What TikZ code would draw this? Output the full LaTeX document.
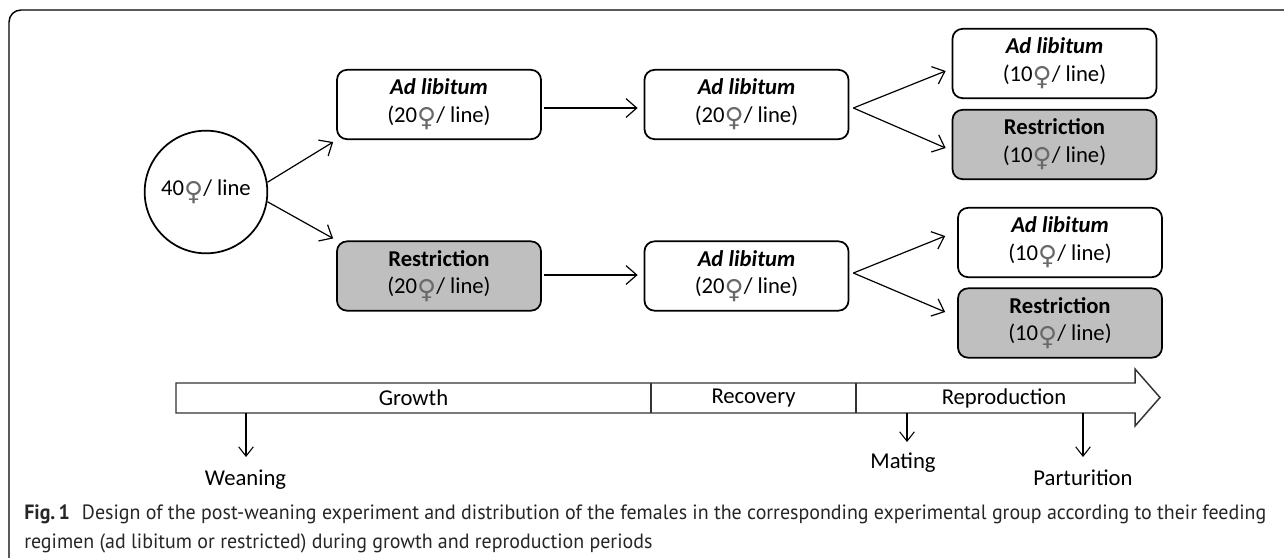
\documentclass[tikz,border=0pt]{standalone}
\usepackage{fontspec}
\usepackage{graphicx}
\setmainfont{Carlito}
\newfontfamily\symfont{DejaVu Sans}
\newfontfamily\capfont{PT Sans}
\usetikzlibrary{arrows.meta}
\definecolor{boxgray}{RGB}{191,191,191}
\definecolor{femcol}{RGB}{105,105,105}
\newcommand{\fem}{{\symfont\color{femcol}\raisebox{-0.2em}{\scalebox{1.15}{♀}}}}
\begin{document}
\begin{tikzpicture}[x=0.75pt,y=-0.75pt,
  every node/.style={font=\fontsize{17}{20.5}\selectfont},
  stage/.style={draw, line width=1.3pt, rounded corners=7.5pt, minimum width=153pt, minimum height=52pt, align=center, inner sep=0pt, fill=white},
  greystage/.style={stage, fill=boxgray},
  arr/.style={line width=0.9pt, -{Straight Barb[length=8pt,width=14pt,line width=0.9pt]}},
  evt/.style={line width=0.8pt, -{Straight Barb[length=7pt,width=11pt,line width=0.8pt]}},
  barline/.style={line width=1.1pt, draw=black!80}
]
\useasboundingbox (0,0) rectangle (1284,557);
\clip (0,0) rectangle (1284,557);
% frame (only its top and left sides fall inside the picture)
\draw[line width=1.1pt, rounded corners=9pt] (9,620) -- (9,10) -- (1300,10);

% nodes
\node[circle, draw, line width=1.3pt, minimum size=92pt, inner sep=0pt] (start) at (206,192) {40\fem/ line};
\node[stage] (a1) at (439,104.5) {\textbf{\textit{Ad libitum}}\\(20\fem/ line)};
\node[greystage] (r1) at (439,276) {\textbf{Restriction}\\(20\fem/ line)};
\node[stage] (a2) at (746.5,104.5) {\textbf{\textit{Ad libitum}}\\(20\fem/ line)};
\node[stage] (a3) at (746.5,276) {\textbf{\textit{Ad libitum}}\\(20\fem/ line)};
\node[stage] (c1) at (1054.5,63.5) {\textbf{\textit{Ad libitum}}\\(10\fem/ line)};
\node[greystage] (c2) at (1054.5,144.5) {\textbf{Restriction}\\(10\fem/ line)};
\node[stage] (c3) at (1060,242.5) {\textbf{\textit{Ad libitum}}\\(10\fem/ line)};
\node[greystage] (c4) at (1060,323) {\textbf{Restriction}\\(10\fem/ line)};

% connectors
\draw[arr] (start.9) -- ([shift={(-3,2)}]a1.south west);
\draw[arr] (start.-9) -- ([shift={(-3,-2)}]r1.north west);
\draw[arr] ([shift={(2,3.5)}]a1.east) -- ([shift={(-6,3.5)}]a2.west);
\draw[arr] ([shift={(2,-1)}]r1.east) -- ([shift={(-6,-1)}]a3.west);
\coordinate (f1) at ([shift={(4,3.5)}]a2.east);
\draw[arr] (f1) -- ([shift={(-6,7.5)}]c1.west);
\draw[arr] (f1) -- ([shift={(-6,3.5)}]c2.west);
\coordinate (f2) at ([shift={(4,-3)}]a3.east);
\draw[arr] (f2) -- ([shift={(-12,-6.5)}]c3.west);
\draw[arr] (f2) -- ([shift={(-12,-11)}]c4.west);

% time bar
\draw[barline, fill=white] (176,383) -- (1135,383) -- (1135,369) -- (1160,397.5) -- (1135,426) -- (1135,413) -- (176,413) -- cycle;
\draw[barline] (651,383) -- (651,413);
\draw[barline] (856,383) -- (856,413);
\node (growth) at (413.5,398) {Growth};
\node (recov) at (753.5,398) {Recovery};
\node (repro) at (1004,398) {Reproduction};

% events
\coordinate (w0) at (246,413);
\coordinate (w1) at (246,457);
\draw[evt] (w0) -- (w1);
\node (wean) at (245.5,480) {Weaning};
\coordinate (m0) at (907,413);
\coordinate (m1) at (907,442);
\draw[evt] (m0) -- (m1);
\node (mat) at (903,463) {Mating};
\coordinate (p0) at (1083,413);
\coordinate (p1) at (1083,457);
\draw[evt] (p0) -- (p1);
\node (part) at (1083,478) {Parturition};

% caption
\node[anchor=west, inner sep=0pt, text=black!85] (cap1) at (24,514) {\sbox0{\capfont\fontsize{15.5}{18}\selectfont\textbf{Fig.\,1}\hspace{0.6em}Design of the post-weaning experiment and distribution of the females in the corresponding experimental group according to their feeding}\xdef\capsc{\fpeval{931.5pt/(\the\wd0)}}\scalebox{\capsc}[1]{\usebox0}};
\node[anchor=west, inner sep=0pt, text=black!85] (cap2) at (24,543) {\scalebox{\capsc}[1]{\capfont\fontsize{15.5}{18}\selectfont regimen (ad libitum or restricted) during growth and reproduction periods}};
\end{tikzpicture}
\end{document}
